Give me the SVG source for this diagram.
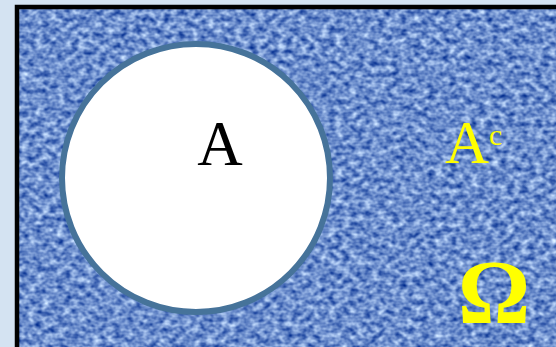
<svg xmlns="http://www.w3.org/2000/svg" width="556" height="347" viewBox="0 0 556 347">
<style>
.serif{font-family:"Liberation Serif","Times New Roman",serif}
.yel{fill:#ffff00}
</style>
<defs>
<filter id="tex" x="0" y="0" width="100%" height="100%" color-interpolation-filters="sRGB">
<feTurbulence type="fractalNoise" baseFrequency="0.14 0.18" numOctaves="2" seed="7" result="n"/>
<feColorMatrix in="n" type="matrix" values="1.05 0 0 0 -0.1  0.95 0 0 0 0.08  0.6 0 0 0 0.5  0 0 0 0 1"/>
</filter>
</defs>
<rect x="0" y="0" width="556" height="347" fill="#d4e3f2"/>
<g id="universe">
<rect x="17" y="7" width="600" height="400" fill="#6686c0"/>
<rect x="17" y="7" width="600" height="400" filter="url(#tex)"/>
<rect x="17" y="7" width="600" height="400" fill="none" stroke="#000" stroke-width="4.5"/>
</g>
<g id="setA">
<circle cx="196" cy="178" r="134" fill="#fff" stroke="#46739a" stroke-width="6"/>
<text x="220" y="165" class="serif" font-size="63" text-anchor="middle" fill="#000">A</text>
</g>
<g id="complement">
<text x="445" y="163" class="serif yel" font-size="61">A<tspan font-size="30" dy="-18">c</tspan></text>
</g>
<g id="omega">
<text x="494" y="323" class="serif yel" font-size="90" font-weight="bold" text-anchor="middle">Ω</text>
</g>
</svg>
